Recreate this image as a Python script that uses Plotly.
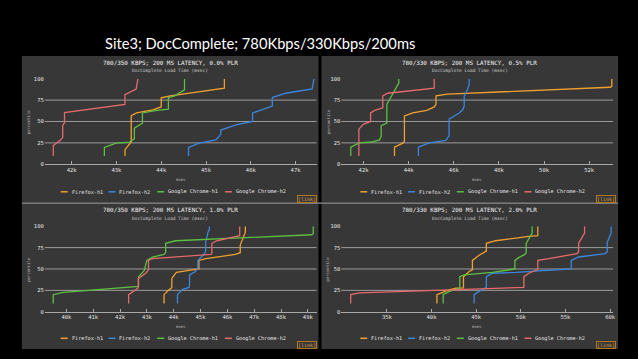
import plotly.graph_objects as go

W, H = 638, 359

# ---------------- data ----------------
SERIES_NAMES = ["Firefox-h1", "Firefox-h2", "Google Chrome-h1", "Google Chrome-h2"]
SERIES_COLORS = ["#f0a030", "#3a86e0", "#5cc040", "#e66a6a"]

PANEL_TITLES = [
    "780/350 KBPS; 200 MS LATENCY, 0.0% PLR",
    "780/330 KBPS; 200 MS LATENCY, 0.5% PLR",
    "780/350 KBPS; 200 MS LATENCY, 1.0% PLR",
    "780/330 KBPS; 200 MS LATENCY, 2.0% PLR",
]
MAIN_TITLE = "Site3; DocComplete; 780Kbps/330Kbps/200ms"
SUBTITLE = "DocComplete Load Time (msec)"
X_TITLE = "msec"
Y_TITLE = "percentile"
LINK_TEXT = "[link]"

Y_TICKS = [0, 25, 50, 75, 100]
Y_GRID = [25, 50, 75]

p0_ticks = [42000, 43000, 44000, 45000, 46000, 47000]
p1_ticks = [42000, 44000, 46000, 48000, 50000, 52000]
p2_ticks = [40000, 41000, 42000, 43000, 44000, 45000, 46000, 47000, 48000, 49000]
p3_ticks = [35000, 40000, 45000, 50000, 55000, 60000]

p0_labels = ["42k", "43k", "44k", "45k", "46k", "47k"]
p1_labels = ["42k", "44k", "46k", "48k", "50k", "52k"]
p2_labels = ["40k", "41k", "42k", "43k", "44k", "45k", "46k", "47k", "48k", "49k"]
p3_labels = ["35k", "40k", "45k", "50k", "55k", "60k"]

# panel 0 : 0.0% PLR
p0_ff1_ms = [43190, 43190, 43330, 43330, 43450, 43810, 44000, 44000, 44200, 45300, 45410, 45410]
p0_ff1_pct = [9.6, 17, 26, 56.9, 60, 63.5, 67, 77.7, 80, 88, 89, 100]
p0_ff2_ms = [44610, 44610, 44850, 45220, 45330, 45330, 45670, 45960, 46040, 46040, 46330, 46480, 46480, 46780, 47370, 47410]
p0_ff2_pct = [9.6, 19.6, 24.6, 28.5, 35, 40, 46, 49, 50, 60, 65, 68, 78, 83, 88, 100]
p0_gc1_ms = [42730, 42730, 42990, 43290, 43400, 43400, 43580, 43580, 43900, 44160, 44160, 44300, 44520, 44520]
p0_gc1_pct = [9.6, 19.6, 24.6, 25.8, 30, 42.3, 48, 60, 63, 64.5, 78, 80, 87, 100]
p0_gc2_ms = [41590, 41590, 41740, 41800, 41800, 41840, 41840, 43190, 43190, 43440, 43480]
p0_gc2_pct = [9.6, 21.9, 27.7, 31.5, 45, 48.8, 60.4, 70, 81.5, 88, 100]

# panel 1 : 0.5% PLR
p1_ff1_ms = [43370, 43370, 43760, 43810, 43810, 44180, 44800, 45130, 45210, 45210, 45720, 52930, 53000, 53000]
p1_ff1_pct = [9.6, 20, 25, 27, 56.5, 60, 63, 67, 70, 80, 82, 90, 91, 100]
p1_ff2_ms = [44430, 44430, 44910, 45650, 45790, 45790, 46050, 46240, 46400, 46460, 46460, 46600, 46680, 46680]
p1_ff2_pct = [9.6, 20, 25, 28, 33.5, 52.7, 57, 60, 64, 68, 80, 87, 93, 100]
p1_gc1_ms = [41430, 41430, 41820, 42340, 42710, 42780, 42780, 43030, 43030, 43220, 43320, 43560, 43560]
p1_gc1_pct = [9.6, 20, 25, 26, 28.5, 33, 45, 48, 70, 79, 83, 95, 100]
p1_gc2_ms = [41790, 41790, 42000, 42310, 42310, 42490, 42850, 42850, 43070, 45060, 45130, 45130]
p1_gc2_pct = [9.6, 41, 47, 50, 60, 63, 66, 80, 83, 88, 89, 100]

# panel 2 : 1.0% PLR
p2_ff1_ms = [43640, 43640, 43800, 43930, 43930, 44100, 44690, 44940, 44940, 45200, 46300, 46480, 46480, 46600, 46670, 46670]
p2_ff1_pct = [9.6, 20, 25, 28, 39, 46, 49, 50, 60, 62, 67, 69, 78, 88, 93, 100]
p2_ff2_ms = [44140, 44140, 44320, 44570, 44590, 44590, 44810, 44900, 44900, 45050, 45120, 45190, 45190, 45280, 45330, 45330]
p2_ff2_pct = [9.6, 20, 26, 28.5, 31.5, 43, 47, 51, 60, 64, 67, 70, 81, 93, 96, 100]
p2_gc1_ms = [39510, 39510, 39880, 42530, 42690, 42690, 42900, 43000, 43210, 43640, 43700, 43700, 44070, 49140, 49200, 49200]
p2_gc1_pct = [9.6, 20, 22.7, 28.5, 29.6, 41, 48, 60, 64, 67, 69, 80, 83, 90, 91, 100]
p2_gc2_ms = [42320, 42320, 42650, 42680, 42680, 42960, 43060, 43060, 43200, 44000, 44900, 45390, 45420, 45420, 45600, 46420, 46460, 46460]
p2_gc2_pct = [9.6, 20, 27, 28.5, 39, 45, 49, 60, 62, 63.5, 65.5, 67, 68, 80, 83, 88, 89, 100]

# panel 3 : 2.0% PLR
p3_ff1_ms = [40610, 40610, 41240, 41980, 42730, 43580, 43580, 44210, 44580, 44580, 45330, 46070, 46140, 46140, 47180, 50900, 51900, 51900]
p3_ff1_pct = [9.6, 20, 22.7, 25.7, 27.7, 28, 41, 47, 49, 60, 66, 70, 71, 80, 83, 88, 89, 100]
p3_ff2_ms = [44770, 44770, 45330, 46070, 46140, 46140, 46810, 49410, 55540, 55650, 55650, 56470, 59440, 59670, 59670, 60000, 60110, 60110]
p3_ff2_pct = [9.6, 20, 23.8, 27.7, 28.5, 41, 45, 46, 49.6, 50, 60, 64, 68, 70, 81, 88, 92, 100]
p3_gc1_ms = [41310, 41310, 42000, 42910, 43170, 43170, 43650, 46810, 49040, 49340, 49340, 49800, 50450, 50600, 50600, 51100, 51270, 51270]
p3_gc1_pct = [9.6, 20, 23.8, 26.5, 27.7, 41, 43, 46, 49, 50, 60, 63.5, 67, 69, 80, 88, 92, 100]
p3_gc2_ms = [30950, 30950, 31950, 42730, 46810, 50340, 50340, 50900, 51830, 51900, 51900, 53130, 56280, 56470, 56470, 56900, 57140, 57140]
p3_gc2_pct = [9.6, 20, 22, 25.7, 27.7, 28.5, 41, 45, 49, 50, 60, 62, 68, 70, 80, 88, 92, 100]

PANEL_DATA = [
    [(p0_ff1_ms, p0_ff1_pct), (p0_ff2_ms, p0_ff2_pct), (p0_gc1_ms, p0_gc1_pct), (p0_gc2_ms, p0_gc2_pct)],
    [(p1_ff1_ms, p1_ff1_pct), (p1_ff2_ms, p1_ff2_pct), (p1_gc1_ms, p1_gc1_pct), (p1_gc2_ms, p1_gc2_pct)],
    [(p2_ff1_ms, p2_ff1_pct), (p2_ff2_ms, p2_ff2_pct), (p2_gc1_ms, p2_gc1_pct), (p2_gc2_ms, p2_gc2_pct)],
    [(p3_ff1_ms, p3_ff1_pct), (p3_ff2_ms, p3_ff2_pct), (p3_gc1_ms, p3_gc1_pct), (p3_gc2_ms, p3_gc2_pct)],
]
PANEL_TICKS = [(p0_ticks, p0_labels), (p1_ticks, p1_labels), (p2_ticks, p2_labels), (p3_ticks, p3_labels)]
PANEL_XRANGE = [(41400, 47467), (41016, 53059), (39195, 49323), (29907, 60334)]

# ---------------- layout geometry (pixels) ----------------
PANELS = [(22, 320, 54, 203), (323, 621, 54, 203), (22, 320, 204, 352), (323, 621, 204, 352)]
PLOTS = [(45, 318, 77, 164), (343, 616, 77, 164), (45, 318, 227, 314), (343, 616, 227, 314)]
PANEL_BG = "#373737"
MONO = "DejaVu Sans Mono"


def fx(px):
    return px / W


def fy(py):
    return 1 - py / H


fig = go.Figure()
shapes = []
annotations = []
layout_axes = {}

for i in range(4):
    n = "" if i == 0 else str(i + 1)
    xa, ya = "x" + n, "y" + n
    l, r, t, b = PLOTS[i]
    pl, pr, pt, pb = PANELS[i]

    shapes.append(dict(type="rect", xref="paper", yref="paper", x0=fx(pl), x1=fx(pr),
                       y0=fy(pb), y1=fy(pt), fillcolor=PANEL_BG, line=dict(width=0), layer="below"))

    for s in range(4):
        xs, ys = PANEL_DATA[i][s]
        fig.add_trace(go.Scatter(x=xs, y=ys, mode="lines", name=SERIES_NAMES[s],
                                 line=dict(color=SERIES_COLORS[s], width=1.3),
                                 xaxis=xa, yaxis=ya, showlegend=False, hoverinfo="skip"))

    tv, tt = PANEL_TICKS[i]
    layout_axes["xaxis" + n] = dict(
        domain=[fx(l), fx(r)], range=list(PANEL_XRANGE[i]), anchor=ya,
        tickvals=tv, ticktext=tt, ticks="inside", ticklen=3, tickcolor="#aaaaaa",
        showline=True, linecolor="#a8a8a8", linewidth=1, showgrid=False, zeroline=False,
        tickfont=dict(family=MONO, size=5.5, color="#e4e4e4"), fixedrange=True)
    layout_axes["yaxis" + n] = dict(
        domain=[fy(b), fy(t)], range=[0, 100], anchor=xa,
        tickvals=Y_TICKS, ticks="", showline=False, showgrid=False, zeroline=False,
        tickfont=dict(family=MONO, size=5.5, color="#e4e4e4"), fixedrange=True)

    for g in Y_GRID:
        shapes.append(dict(type="line", xref=xa + " domain", yref=ya, x0=0, x1=1, y0=g, y1=g,
                           line=dict(color="#9c9c9c", width=1), layer="below"))

    cx = (pl + pr) / 2
    annotations.append(dict(text=PANEL_TITLES[i], xref="paper", yref="paper", x=fx(cx), y=fy(pt + 7),
                            showarrow=False, font=dict(family=MONO, size=5.9, color="#f2f2f2"),
                            xanchor="center", yanchor="middle"))
    annotations.append(dict(text=SUBTITLE, xref="paper", yref="paper", x=fx(cx), y=fy(pt + 15),
                            showarrow=False, font=dict(family=MONO, size=4.5, color="#cccccc"),
                            xanchor="center", yanchor="middle"))
    annotations.append(dict(text=X_TITLE, xref="paper", yref="paper", x=fx((l + r) / 2), y=fy(b + 15),
                            showarrow=False, font=dict(family=MONO, size=4, color="#bbbbbb"),
                            xanchor="center", yanchor="middle"))
    annotations.append(dict(text=Y_TITLE, xref="paper", yref="paper", x=fx(pl + 7), y=fy((t + b) / 2),
                            showarrow=False, textangle=-90, font=dict(family=MONO, size=4, color="#bbbbbb"),
                            xanchor="center", yanchor="middle"))

    # legend
    sym = [39, 87, 136, 204]
    for s in range(4):
        shapes.append(dict(type="line", xref="paper", yref="paper", x0=fx(pl + sym[s]), x1=fx(pl + sym[s] + 7),
                           y0=fy(pb - 11), y1=fy(pb - 11), line=dict(color=SERIES_COLORS[s], width=1.5)))
        annotations.append(dict(text=SERIES_NAMES[s], xref="paper", yref="paper", x=fx(pl + sym[s] + 9),
                                y=fy(pb - 11), showarrow=False, xanchor="left", yanchor="middle",
                                font=dict(family=MONO, size=5.2, color="#e4e4e4")))
    # link
    annotations.append(dict(text=LINK_TEXT, xref="paper", yref="paper", x=fx(pr - 2), y=fy(pb),
                            showarrow=False, xanchor="right", yanchor="bottom",
                            font=dict(family=MONO, size=5, color="#e0a040"),
                            bordercolor="#b07820", borderwidth=1, borderpad=0))

# separator line between rows
shapes.append(dict(type="line", xref="paper", yref="paper", x0=fx(22), x1=fx(621), y0=fy(203.5), y1=fy(203.5),
                   line=dict(color="#bbbbbb", width=1)))

annotations.append(dict(text=MAIN_TITLE, xref="paper", yref="paper", x=fx(261), y=fy(41),
                        showarrow=False, xanchor="center", yanchor="middle",
                        font=dict(family="Lato", size=14.7, color="#ffffff")))

fig.update_layout(width=W, height=H, margin=dict(l=0, r=0, t=0, b=0),
                  paper_bgcolor="#000000", plot_bgcolor="rgba(0,0,0,0)",
                  shapes=shapes, annotations=annotations, showlegend=False, **layout_axes)

fig.write_html("out.html", config={"displayModeBar": False},
               post_script="document.body.style.margin='0';document.body.style.background='#000';")
